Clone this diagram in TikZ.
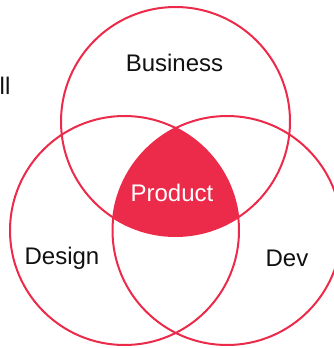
\documentclass[tikz,border=0pt]{standalone}
\usepackage{fontspec}
\setmainfont{Liberation Sans}
\usepackage{xcolor}
\usepackage{tikz}
\definecolor{ring}{HTML}{EC2A4A}
\definecolor{ink}{HTML}{111111}
\tikzset{
  ringline/.style={draw=ring, line width=2pt},
  lab/.style={text=ink, font=\fontsize{24}{28}\selectfont, inner sep=0pt},
  labw/.style={text=white, font=\fontsize{24}{28}\selectfont, inner sep=0pt},
}
\begin{document}
\begin{tikzpicture}[x=1pt,y=-1pt]
  \useasboundingbox (0,0) rectangle (334,348);
  \pgfmathsetmacro{\R}{114.5}
  \coordinate (Cbus) at (175.5,121.5);
  \coordinate (Cdes) at (124.5,230.5);
  \coordinate (Cdev) at (227,230.5);

  % shared middle part
  \begin{scope}
    \clip (Cbus) circle (\R);
    \clip (Cdes) circle (\R);
    \fill[ring] (Cdev) circle (\R);
  \end{scope}

  \draw[ringline] (Cbus) circle (\R);
  \draw[ringline] (Cdes) circle (\R);
  \draw[ringline] (Cdev) circle (\R);

  \node[lab]  (bus)  at (174.5,63)  {Business};
  \node[lab]  (des)  at (62,258)  {Design};
  \node[lab]  (dev)  at (287,258) {Dev};
  \node[labw] (prod) at (172,193) {Product};
  \node[lab, anchor=west] (cut) at (-0.5,86) {ll};
\end{tikzpicture}
\end{document}
